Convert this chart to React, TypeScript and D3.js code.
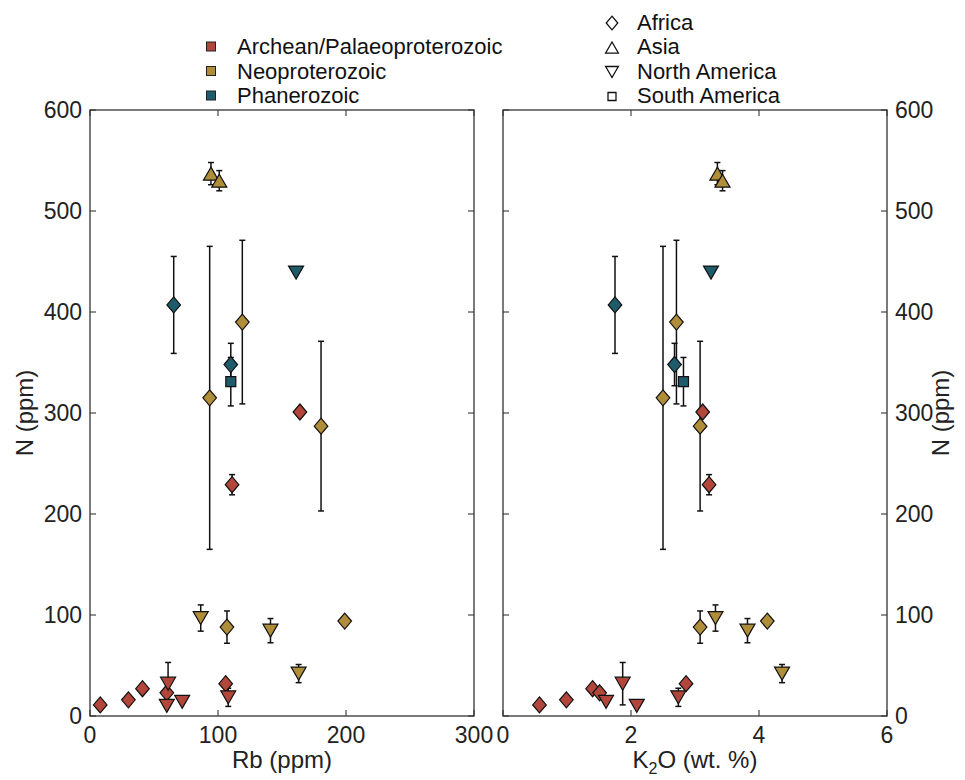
import React from "react";
import * as d3 from "d3";

// ---- data ----
const periods = ["Archean/Palaeoproterozoic", "Neoproterozoic", "Phanerozoic"];
const periodColors = ["#b3463a", "#b08d39", "#1f5c6b"];
const regions = ["Africa", "Asia", "North America", "South America"];

// one entry per sample: period index, region index, Rb (ppm), K2O (wt.%), N (ppm), N error
const samplePeriod = [0, 0, 0, 0, 0, 0, 0, 0, 0, 0, 0, 1, 1, 1, 1, 1, 1, 1, 1, 1, 1, 2, 2, 2, 2];
const sampleRegion = [0, 0, 0, 0, 0, 0, 0, 2, 2, 2, 2, 2, 0, 2, 0, 2, 1, 1, 0, 0, 0, 0, 0, 3, 2];
const sampleRb = [8, 30, 41, 60, 106, 164, 111, 61, 60, 72, 108, 86.5, 107, 141, 199, 163, 94.5, 101, 93.5, 119, 180.5, 65.4, 110, 110, 161];
const sampleK2O = [0.57, 0.99, 1.4, 1.51, 2.86, 3.12, 3.22, 1.87, 2.09, 1.61, 2.74, 3.32, 3.08, 3.82, 4.13, 4.36, 3.35, 3.43, 2.5, 2.71, 3.08, 1.75, 2.68, 2.82, 3.25];
const sampleN = [11, 16, 27, 23, 32, 301, 229, 32, 10, 14, 18.5, 97, 88, 84.5, 94, 42, 537, 530, 315, 390, 287, 407, 348, 331, 439];
const sampleErr = [0, 0, 0, 0, 0, 0, 10, 21, 0, 0, 9, 13, 16, 12, 0, 9, 11, 10, 150, 81, 84, 48, 21, 24, 0];

const rbTicks = [0, 100, 200, 300];
const k2oTicks = [0, 2, 4, 6];
const nTicks = [0, 100, 200, 300, 400, 500, 600];

const FONT = "'Liberation Sans', Arial, Helvetica, sans-serif";

function markerPath(region: number, cx: number, cy: number, s = 1): string {
  if (region === 0) {
    const w = 6.8 * s, h = 8 * s;
    return `M${cx},${cy - h}L${cx + w},${cy}L${cx},${cy + h}L${cx - w},${cy}Z`;
  }
  if (region === 1) {
    const w = 7.5 * s, h = 6.5 * s;
    return `M${cx},${cy - h}L${cx + w},${cy + h}L${cx - w},${cy + h}Z`;
  }
  if (region === 2) {
    const w = 7.5 * s, h = 6.5 * s;
    return `M${cx},${cy + h}L${cx + w},${cy - h}L${cx - w},${cy - h}Z`;
  }
  const a = 5 * s;
  return `M${cx - a},${cy - a}H${cx + a}V${cy + a}H${cx - a}Z`;
}

const yScale = d3.scaleLinear().domain([0, 600]).range([716, 110]);
const xRb = d3.scaleLinear().domain([0, 300]).range([90, 474]);
const xK = d3.scaleLinear().domain([0, 6]).range([503, 887]);

function Panel({ x, xValues, xTicks, yLabelSide }: { x: d3.ScaleLinear<number, number>; xValues: number[]; xTicks: number[]; yLabelSide: "left" | "right" }) {
  const [x0, x1] = x.range();
  const [y0, y1] = yScale.range();
  const tl = 6;
  const idx = d3.range(sampleN.length);
  return (
    <g>
      {/* ticks */}
      {xTicks.map((t) => (
        <g key={"xt" + t}>
          <line x1={x(t)} x2={x(t)} y1={y0} y2={y0 - tl} stroke="#222" strokeWidth={1} />
          <line x1={x(t)} x2={x(t)} y1={y1} y2={y1 + tl} stroke="#222" strokeWidth={1} />
          <text x={x(t)} y={743} textAnchor="middle" fontSize={23} fill="#222" fontFamily={FONT}>{t}</text>
        </g>
      ))}
      {nTicks.map((t) => (
        <g key={"yt" + t}>
          <line x1={x0} x2={x0 + tl} y1={yScale(t)} y2={yScale(t)} stroke="#222" strokeWidth={1} />
          <line x1={x1} x2={x1 - tl} y1={yScale(t)} y2={yScale(t)} stroke="#222" strokeWidth={1} />
          {yLabelSide === "left" ? (
            <text x={x0 - 8} y={yScale(t) + 8} textAnchor="end" fontSize={23} fill="#222" fontFamily={FONT}>{t}</text>
          ) : (
            <text x={x1 + 8} y={yScale(t) + 8} textAnchor="start" fontSize={23} fill="#222" fontFamily={FONT}>{t}</text>
          )}
        </g>
      ))}
      {/* error bars */}
      {idx.filter((i) => sampleErr[i] > 0).map((i) => {
        const cx = x(xValues[i]);
        const top = yScale(sampleN[i] + sampleErr[i]);
        const bot = yScale(sampleN[i] - sampleErr[i]);
        return (
          <g key={"e" + i} stroke="#111" strokeWidth={1.5}>
            <line x1={cx} x2={cx} y1={top} y2={bot} />
            <line x1={cx - 3} x2={cx + 3} y1={top} y2={top} />
            <line x1={cx - 3} x2={cx + 3} y1={bot} y2={bot} />
          </g>
        );
      })}
      {/* markers */}
      {idx.map((i) => (
        <path key={"m" + i} d={markerPath(sampleRegion[i], x(xValues[i]), yScale(sampleN[i]))}
          fill={periodColors[samplePeriod[i]]} stroke="#111" strokeWidth={1.2} strokeLinejoin="miter" />
      ))}
      {/* frame */}
      <rect x={x0} y={y1} width={x1 - x0} height={y0 - y1} fill="none" stroke="#333" strokeWidth={1.3} />
    </g>
  );
}

export default function App() {
  return (
    <svg width={965} height={780} style={{ position: "absolute", left: 0, top: 0, background: "#fff" }} fontFamily={FONT}>
      <rect width={965} height={780} fill="#fff" />
      <Panel x={xRb} xValues={sampleRb} xTicks={rbTicks} yLabelSide="left" />
      <Panel x={xK} xValues={sampleK2O} xTicks={k2oTicks} yLabelSide="right" />

      {/* axis labels */}
      <text x={282} y={768} textAnchor="middle" fontSize={24} fill="#222">Rb (ppm)</text>
      <text x={695} y={768} textAnchor="middle" fontSize={24} fill="#222">
        K<tspan dy={6} fontSize={16}>2</tspan><tspan dy={-6}>O (wt. %)</tspan>
      </text>
      <text transform={`translate(33,413) rotate(-90)`} textAnchor="middle" fontSize={24} fill="#222">N (ppm)</text>
      <text transform={`translate(949,413) rotate(-90)`} textAnchor="middle" fontSize={24} fill="#222">N (ppm)</text>

      {/* period legend */}
      {periods.map((p, i) => (
        <g key={p}>
          <rect x={206.5} y={42 + i * 24.5} width={9} height={9} fill={periodColors[i]} stroke="#222" strokeWidth={1} />
          <text x={237} y={54 + i * 24.5} fontSize={22} fill="#111">{p}</text>
        </g>
      ))}
      {/* region legend */}
      {regions.map((r, i) => (
        <g key={r}>
          <path d={markerPath(i, 612, 23 + i * 24.5, i === 3 ? 0.8 : 0.85)} fill="#fff" stroke="#111" strokeWidth={1.3} />
          <text x={637} y={30 + i * 24.3} fontSize={22} fill="#111">{r}</text>
        </g>
      ))}
    </svg>
  );
}
